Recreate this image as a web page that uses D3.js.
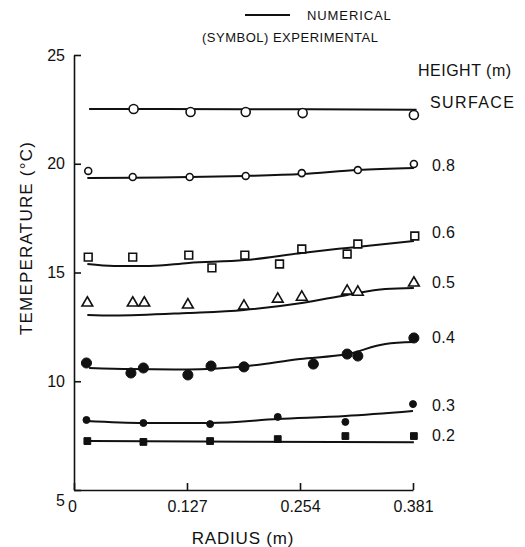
<!DOCTYPE html>
<html>
<head>
<meta charset="utf-8">
<script src="https://cdn.jsdelivr.net/npm/d3@7"></script>
<style>
  body { margin: 0; background: #fff; }
  svg { font-family: "Liberation Sans", Arial, Helvetica, sans-serif; }
  .axis path, .axis line { stroke: #111; stroke-width: 1.6; }
  .axis text { font-size: 16px; fill: #111; }
</style>
</head>
<body>
<div id="chart"></div>
<script>
'use strict';

// Ticks
const xTicks = [0, 0.127, 0.254, 0.381];
const yTicks = [5, 10, 15, 20, 25];

// Height labels (right side)
const heights = ["SURFACE", "0.8", "0.6", "0.5", "0.4", "0.3", "0.2"];

// Experimental points [radius (m), temperature (°C)]
const expSurface = [[0.067, 22.52], [0.131, 22.38], [0.193, 22.38], [0.257, 22.33], [0.382, 22.24]];
const exp08 = [[0.016, 19.67], [0.066, 19.39], [0.130, 19.39], [0.193, 19.44], [0.256, 19.57], [0.319, 19.71], [0.382, 19.99]];
const exp06 = [[0.016, 15.71], [0.066, 15.71], [0.129, 15.80], [0.155, 15.21], [0.192, 15.80], [0.231, 15.39], [0.256, 16.08], [0.307, 15.85], [0.319, 16.31], [0.383, 16.68]];
const exp05 = [[0.015, 13.60], [0.066, 13.60], [0.079, 13.60], [0.128, 13.51], [0.191, 13.46], [0.229, 13.78], [0.256, 13.87], [0.307, 14.15], [0.319, 14.10], [0.382, 14.52]];
const exp04 = [[0.014, 10.84], [0.064, 10.38], [0.078, 10.61], [0.128, 10.29], [0.154, 10.70], [0.191, 10.66], [0.269, 10.79], [0.307, 11.25], [0.319, 11.16], [0.382, 11.99]];
const exp03 = [[0.014, 8.22], [0.078, 8.08], [0.153, 8.03], [0.229, 8.36], [0.305, 8.13], [0.381, 8.95]];
const exp02 = [[0.015, 7.25], [0.078, 7.21], [0.153, 7.25], [0.229, 7.34], [0.305, 7.48], [0.382, 7.48]];

// Numerical curves [radius (m), temperature (°C)]
const numSurface = [[0.017, 22.52], [0.19, 22.51], [0.385, 22.48]];
const num08 = [[0.015, 19.34], [0.066, 19.36], [0.130, 19.39], [0.193, 19.44], [0.256, 19.53], [0.319, 19.71], [0.382, 19.80]];
const num06 = [[0.015, 15.39], [0.045, 15.30], [0.085, 15.30], [0.129, 15.44], [0.192, 15.57], [0.256, 15.90], [0.307, 16.13], [0.382, 16.45]];
const num05 = [[0.015, 13.05], [0.044, 13.02], [0.128, 13.14], [0.191, 13.28], [0.256, 13.60], [0.307, 13.97], [0.350, 14.24], [0.382, 14.29]];
const num04 = [[0.017, 10.61], [0.064, 10.56], [0.128, 10.54], [0.191, 10.68], [0.254, 11.02], [0.307, 11.25], [0.350, 11.71], [0.382, 11.80]];
const num03 = [[0.014, 8.17], [0.078, 8.08], [0.153, 8.08], [0.229, 8.26], [0.305, 8.40], [0.381, 8.63]];
const num02 = [[0.015, 7.25], [0.200, 7.22], [0.382, 7.20]];

// Label temperature for each height (right side)
const labelTemps = [22.8, 19.92, 16.85, 14.55, 12.0, 8.9, 7.5];

const W = 525, H = 547;
const svg = d3.select("#chart").append("svg").attr("width", W).attr("height", H);

const x = d3.scaleLinear().domain([0, 0.381]).range([74, 413]);
const y = d3.scaleLinear().domain([5, 25]).range([490, 55]);

// Series table (symbol, size, fill)
const series = [
    {exp: expSurface, num: numSurface, sym: d3.symbolCircle, size: 64, filled: false},
    {exp: exp08, num: num08, sym: d3.symbolCircle, size: 38, filled: false},
    {exp: exp06, num: num06, sym: d3.symbolSquare, size: 60, filled: false},
    {exp: exp05, num: num05, sym: d3.symbolTriangle, size: 50, filled: false},
    {exp: exp04, num: num04, sym: d3.symbolCircle, size: 80, filled: true},
    {exp: exp03, num: num03, sym: d3.symbolCircle, size: 38, filled: true},
    {exp: exp02, num: num02, sym: d3.symbolSquare, size: 46, filled: true}
];

// Axes
const xAxis = d3.axisBottom(x).tickValues(xTicks).tickSize(-7).tickSizeOuter(0).tickPadding(11)
    .tickFormat(d => d === 0 ? "0" : d3.format(".3f")(d));
const gx = svg.append("g").attr("class", "axis").attr("transform", `translate(0,${y(5)})`).call(xAxis);
gx.selectAll(".tick text").filter(d => d === 0).attr("dx", "-2");

const yAxis = d3.axisLeft(y).tickValues(yTicks).tickSize(-7).tickSizeOuter(0).tickPadding(9);
const gy = svg.append("g").attr("class", "axis").attr("transform", `translate(${x(0)},0)`).call(yAxis);
gy.selectAll(".tick text").filter(d => d === 5).attr("dy", "0.95em");

// Numerical lines
const line = d3.line().x(d => x(d[0])).y(d => y(d[1])).curve(d3.curveMonotoneX);
svg.append("g").selectAll("path").data(series).join("path")
    .attr("d", d => line(d.num))
    .attr("fill", "none").attr("stroke", "#111").attr("stroke-width", 2);

// Experimental symbols
series.forEach(s => {
    svg.append("g").selectAll("path").data(s.exp).join("path")
        .attr("transform", d => `translate(${x(d[0])},${y(d[1])})`)
        .attr("d", d3.symbol(s.sym, s.size))
        .attr("fill", s.filled ? "#111" : "#fff")
        .attr("stroke", "#111").attr("stroke-width", s.filled ? 1 : 1.6);
});

// Height labels
svg.append("g").selectAll("text").data(heights).join("text")
    .attr("x", (d, i) => i === 0 ? 430 : 432)
    .attr("y", (d, i) => y(labelTemps[i]))
    .attr("dy", "0.35em")
    .attr("font-size", 16)
    .attr("letter-spacing", (d, i) => i === 0 ? 1.4 : 0.3)
    .attr("fill", "#111")
    .text(d => d);

svg.append("text").attr("x", 418).attr("y", 76).attr("font-size", 16).attr("letter-spacing", 0.5)
    .attr("fill", "#111").text("HEIGHT  (m)");

// Axis titles
svg.append("text").attr("x", 243).attr("y", 544).attr("text-anchor", "middle")
    .attr("font-size", 17).attr("letter-spacing", 0.8).attr("fill", "#111").text("RADIUS  (m)");
svg.append("text").attr("transform", "translate(32,238) rotate(-90)").attr("text-anchor", "middle")
    .attr("font-size", 17).attr("letter-spacing", 1.2).attr("fill", "#111").text("TEMEPERATURE  (°C)");

// Legend
svg.append("line").attr("x1", 245).attr("x2", 290).attr("y1", 15).attr("y2", 15)
    .attr("stroke", "#111").attr("stroke-width", 2);
svg.append("text").attr("x", 307).attr("y", 20).attr("font-size", 13).attr("letter-spacing", 0.9)
    .attr("fill", "#111").text("NUMERICAL");
svg.append("text").attr("x", 202).attr("y", 42).attr("font-size", 13).attr("letter-spacing", 0.5)
    .attr("fill", "#111").text("(SYMBOL) EXPERIMENTAL");
</script>
</body>
</html>
